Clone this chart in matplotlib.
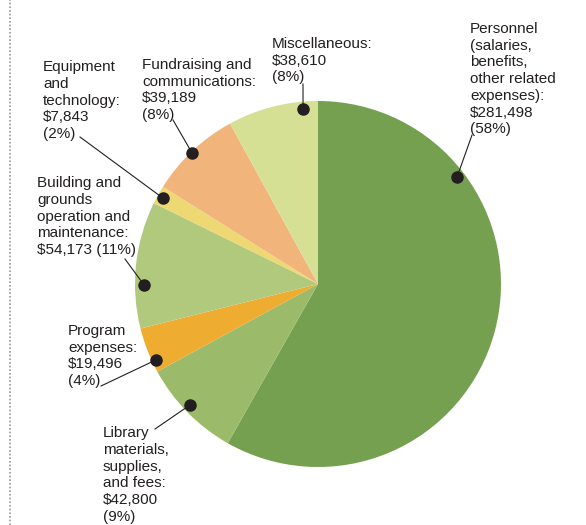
import numpy as np
import matplotlib.pyplot as plt

W, H = 586, 525

categories = ["Personnel", "Library", "Program", "Building",
              "Equipment", "Fundraising", "Misc"]
values = [281498, 42800, 19496, 54173, 7843, 39189, 38610]
labels = [
    "Personnel\n(salaries,\nbenefits,\nother related\nexpenses):\n$281,498\n(58%)",
    "Library\nmaterials,\nsupplies,\nand fees:\n$42,800\n(9%)",
    "Program\nexpenses:\n$19,496\n(4%)",
    "Building and\ngrounds\noperation and\nmaintenance:\n$54,173 (11%)",
    "Equipment\nand\ntechnology:\n$7,843\n(2%)",
    "Fundraising and\ncommunications:\n$39,189\n(8%)",
    "Miscellaneous:\n$38,610\n(8%)",
]
colors = ["#74a04f", "#9bbb6b", "#eeac31", "#b1c97d",
          "#eed874", "#f1b57c", "#d5e095"]

# layout (pixels, y from top)
center = (318, 284)
radius = 183
dot_frac = [0.25, 0.535, 0.24, 0.34, 0.47, 0.48, 0.83]   # where along the wedge
dot_r = [0.96, 0.96, 0.98, 0.95, 0.97, 0.99, 0.96]
text_pos = [(470, 22), (103, 426), (68, 324), (37, 176), (43, 60), (142, 58), (272, 37)]
line_end = [(472, 135), (155, 429), (101, 386), (125, 259), (80, 137), (173, 120), (303, 84)]

ink = "#231f20"
font = ["Liberation Sans", "DejaVu Sans"]

fig = plt.figure(figsize=(W / 100, H / 100), dpi=100)
ax = fig.add_axes([0, 0, 1, 1])

wedges, _ = ax.pie(values, colors=colors, startangle=90, counterclock=False,
                   center=(center[0], H - center[1]), radius=radius,
                   wedgeprops=dict(linewidth=0))

for w, f, r, tp, le, lab in zip(wedges, dot_frac, dot_r, text_pos, line_end, labels):
    # wedges run clockwise, so walk from theta2 down
    ang = np.deg2rad(w.theta2 - f * (w.theta2 - w.theta1))
    dx = center[0] + r * radius * np.cos(ang)
    dy = (H - center[1]) + r * radius * np.sin(ang)
    ax.plot([dx, le[0]], [dy, H - le[1]], color=ink, lw=0.8, zorder=3)
    ax.plot(dx, dy, "o", color=ink, ms=8, zorder=4)
    ax.text(tp[0], H - tp[1], lab, ha="left", va="top", fontsize=11,
            family=font, color=ink, linespacing=1.25)

ax.axvline(10, color="#9a9a9a", lw=1.2, ls=(0, (1, 1.2)))

ax.set_xlim(0, W)
ax.set_ylim(0, H)
ax.set_aspect("auto")
ax.axis("off")

fig.savefig("out.png", dpi=100)
